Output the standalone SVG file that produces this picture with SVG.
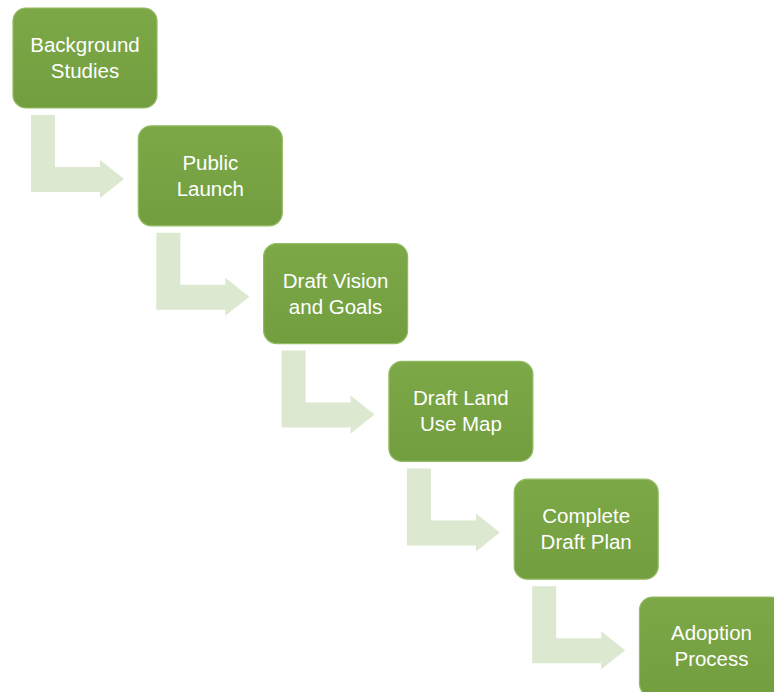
<svg xmlns="http://www.w3.org/2000/svg" width="774" height="692" viewBox="0 0 774 692">
<defs>
<linearGradient id="g" x1="0" y1="0" x2="0" y2="1">
<stop offset="0" stop-color="#7ca848"/>
<stop offset="1" stop-color="#729e3f"/>
</linearGradient>
<path id="arr" d="M31,115 H55 V167 H100 V160 L124,179 L100,198 V192 H31 Z"/>
</defs>
<style>
.box{fill:url(#g);stroke:#93bb63;stroke-width:1.2}
.arrow{fill:#dde8d0}
.t{font-family:"Liberation Sans",Arial,sans-serif;font-size:20.5px;fill:#ffffff;text-anchor:middle}
</style>
<rect width="774" height="692" fill="#ffffff"/>
<g id="connectors">
<use href="#arr" class="arrow"/>
<use href="#arr" class="arrow" transform="translate(125.3,117.8)"/>
<use href="#arr" class="arrow" transform="translate(250.6,235.6)"/>
<use href="#arr" class="arrow" transform="translate(375.9,353.4)"/>
<use href="#arr" class="arrow" transform="translate(501.2,471.2)"/>
</g>
<g id="n1"><rect class="box" x="13" y="8" width="144" height="100" rx="13"/>
<text class="t" x="85" y="52">Background</text><text class="t" x="85" y="78">Studies</text></g>
<g id="n2"><rect class="box" x="138.3" y="125.8" width="144" height="100" rx="13"/>
<text class="t" x="210.3" y="170">Public</text><text class="t" x="210.3" y="196">Launch</text></g>
<g id="n3"><rect class="box" x="263.6" y="243.6" width="144" height="100" rx="13"/>
<text class="t" x="335.6" y="288">Draft Vision</text><text class="t" x="335.6" y="314">and Goals</text></g>
<g id="n4"><rect class="box" x="388.9" y="361.4" width="144" height="100" rx="13"/>
<text class="t" x="460.9" y="405">Draft Land</text><text class="t" x="460.9" y="431">Use Map</text></g>
<g id="n5"><rect class="box" x="514.2" y="479.2" width="144" height="100" rx="13"/>
<text class="t" x="586.2" y="523">Complete</text><text class="t" x="586.2" y="549">Draft Plan</text></g>
<g id="n6"><rect class="box" x="639.5" y="597" width="144" height="100" rx="13"/>
<text class="t" x="711.5" y="640">Adoption</text><text class="t" x="711.5" y="666">Process</text></g>
</svg>
